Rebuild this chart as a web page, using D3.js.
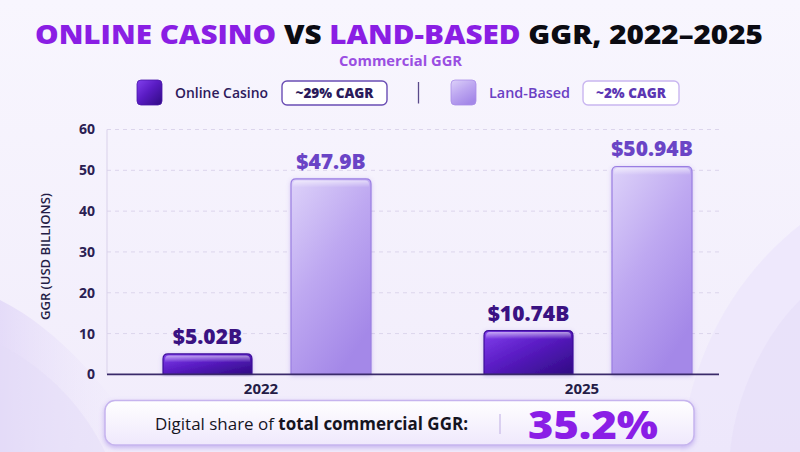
<!DOCTYPE html>
<html>
<head>
<meta charset="utf-8">
<script src="https://cdn.jsdelivr.net/npm/d3@7/dist/d3.min.js"></script>
<style>
  html, body { margin: 0; padding: 0; background: #f6f3fd; }
  svg { display: block; font-family: "Open Sans", "DejaVu Sans", sans-serif; }
</style>
</head>
<body>
<svg id="chart" width="800" height="452"></svg>
<script>
// ---------- data ----------
const years = ["2022", "2025"];
const series = ["Online Casino", "Land-Based"];
const onlineValues = [5.02, 10.74];
const landValues = [47.9, 50.94];
const cagrLabels = ["~29% CAGR", "~2% CAGR"];
const yTicks = [0, 10, 20, 30, 40, 50, 60];
const digitalShare = 35.2;
const titleParts = [
  { text: "ONLINE CASINO ", accent: true },
  { text: "VS ", accent: false },
  { text: "LAND-BASED ", accent: true },
  { text: "GGR, 2022\u20132025", accent: false }
];
const subtitle = "Commercial GGR";
const yTitle = "GGR (USD BILLIONS)";

// ---------- setup ----------
const W = 800, H = 452;
const svg = d3.select("#chart");
const defs = svg.append("defs");

function linGrad(id, x2, y2, stops) {
  const g = defs.append("linearGradient").attr("id", id)
    .attr("x1", 0).attr("y1", 0).attr("x2", x2).attr("y2", y2);
  stops.forEach(s => g.append("stop").attr("offset", s[0]).attr("stop-color", s[1]).attr("stop-opacity", s[2] == null ? 1 : s[2]));
}
linGrad("bg", 0, 1, [[0, "#f8f6fe"], [1, "#f1ecfb"]]);
linGrad("onlineGrad", 1, 1, [[0, "#8240ee"], [0.45, "#5a1cc4"], [1, "#2f0a82"]]);
linGrad("landGrad", 0.6, 1, [[0, "#ddd2f9"], [0.5, "#bea8f1"], [1, "#a488e8"]]);
linGrad("gloss", 0, 1, [[0, "#ffffff", 0.55], [1, "#ffffff", 0]]);
linGrad("boxGrad", 0, 1, [[0, "#ffffff"], [1, "#efe8fc"]]);
linGrad("decoL", 1, 0, [[0, "#d9ccf6", 0.7], [1, "#f3effd", 0]]);

const shadow = defs.append("filter").attr("id", "boxShadow")
  .attr("x", "-5%").attr("y", "-30%").attr("width", "110%").attr("height", "170%");
shadow.append("feDropShadow").attr("dx", 0).attr("dy", 2).attr("stdDeviation", 2.5)
  .attr("flood-color", "#8d6be0").attr("flood-opacity", 0.45);
const barShadow = defs.append("filter").attr("id", "barShadow")
  .attr("x", "-20%").attr("y", "-10%").attr("width", "140%").attr("height", "120%");
barShadow.append("feDropShadow").attr("dx", 0).attr("dy", 1).attr("stdDeviation", 2)
  .attr("flood-color", "#7a55d8").attr("flood-opacity", 0.3);

// background
svg.append("rect").attr("width", W).attr("height", H).attr("fill", "url(#bg)");
svg.append("path").attr("d", "M0,300 C60,330 110,390 150,452 L0,452 Z").attr("fill", "url(#decoL)").attr("opacity", 0.8);
svg.append("path").attr("d", "M0,345 C50,370 85,410 105,452 L0,452 Z").attr("fill", "#e4dbf8").attr("opacity", 0.5);
svg.append("path").attr("d", "M800,225 C730,280 690,360 680,452 L800,452 Z").attr("fill", "#ece6fb").attr("opacity", 0.8);
svg.append("path").attr("d", "M800,300 C760,340 735,400 730,452 L800,452 Z").attr("fill", "#e6def9").attr("opacity", 0.6);

function fitWidth(sel, w) {
  sel.attr("textLength", w).attr("lengthAdjust", "spacingAndGlyphs");
}

// ---------- title ----------
const title = svg.append("text").attr("x", 35).attr("y", 43.5)
  .attr("font-size", 26).attr("font-weight", 800);
title.selectAll("tspan").data(titleParts).join("tspan")
  .attr("fill", d => d.accent ? "#8a1ee4" : "#0b0b12")
  .text(d => d.text);
fitWidth(title, 728);

const sub = svg.append("text").attr("x", 339).attr("y", 65.5)
  .attr("font-size", 13.5).attr("font-weight", 700).attr("fill", "#9a4ee2")
  .text(subtitle);
fitWidth(sub, 123);

// ---------- legend ----------
const legendSpec = [
  { sq: 137, text: 175, textW: 93, box: [282, 105], color: "url(#onlineGrad)", tc: "#2d1a5c", bc: "#6a4db4", btc: "#2a1a5a", btw: 78 },
  { sq: 451, text: 489, textW: 81, box: [583, 96], color: "url(#landGrad)", tc: "#6a40c4", bc: "#c9b6f0", btc: "#5b36b3", btw: 70 }
];
const lg = svg.append("g").selectAll("g").data(series).join("g");
lg.append("rect").attr("x", (d, i) => legendSpec[i].sq).attr("y", 80)
  .attr("width", 25).attr("height", 25).attr("rx", 4)
  .attr("fill", (d, i) => legendSpec[i].color)
  .attr("stroke", (d, i) => i ? "#a98de8" : "#4a18a8").attr("stroke-width", 0.8);
lg.append("text").attr("x", (d, i) => legendSpec[i].text).attr("y", 97.5)
  .attr("font-size", 14).attr("font-weight", 600)
  .attr("fill", (d, i) => legendSpec[i].tc).text(d => d)
  .each(function (d, i) { fitWidth(d3.select(this), legendSpec[i].textW); });
lg.append("rect").attr("x", (d, i) => legendSpec[i].box[0]).attr("y", 81)
  .attr("width", (d, i) => legendSpec[i].box[1]).attr("height", 24).attr("rx", 5)
  .attr("fill", "#ffffff").attr("stroke", (d, i) => legendSpec[i].bc).attr("stroke-width", 1.4);
lg.append("text").attr("x", (d, i) => legendSpec[i].box[0] + (legendSpec[i].box[1] - legendSpec[i].btw) / 2).attr("y", 97.5)
  .attr("font-size", 13.5).attr("font-weight", 800)
  .attr("fill", (d, i) => legendSpec[i].btc).text((d, i) => cagrLabels[i])
  .each(function (d, i) { fitWidth(d3.select(this), legendSpec[i].btw); });
svg.append("line").attr("x1", 418.5).attr("x2", 418.5).attr("y1", 82).attr("y2", 103.5)
  .attr("stroke", "#5a4a8a").attr("stroke-width", 1.3);

// ---------- scales ----------
const y = d3.scaleLinear().domain([0, 60]).range([374.4, 129.5]);
const x0 = d3.scaleBand().domain(years).range([105, 747]);
const x1 = d3.scaleBand().domain(series).range([58, 266]).paddingInner(0.375);
const seriesWidth = { "Online Casino": 89, "Land-Based": 80 };
const plotL = 107, plotR = 719;

// gridlines
svg.append("g").selectAll("line").data(yTicks.filter(t => t > 0)).join("line")
  .attr("x1", plotL).attr("x2", plotR).attr("y1", d => y(d)).attr("y2", d => y(d))
  .attr("stroke", "#dcd5ec").attr("stroke-width", 1).attr("stroke-dasharray", "4,4");
svg.append("line").attr("x1", plotL).attr("x2", plotL).attr("y1", y(60)).attr("y2", y(0))
  .attr("stroke", "#d9d1ea").attr("stroke-width", 1);

// y axis
const yAxis = svg.append("g").attr("transform", `translate(${plotL},0)`)
  .call(d3.axisLeft(y).tickValues(yTicks).tickSize(0).tickPadding(12));
yAxis.select(".domain").remove();
yAxis.selectAll("text").attr("font-size", 14).attr("font-weight", 700)
  .attr("fill", "#2a2052").attr("font-family", "Open Sans, sans-serif");

const yt = svg.append("text").attr("transform", "translate(49.5,256.5) rotate(-90)")
  .attr("text-anchor", "middle").attr("font-size", 12.5).attr("font-weight", 600)
  .attr("fill", "#241c46").text(yTitle);
fitWidth(yt, 127);

// bars
function topRounded(x, yTop, w, h, r) {
  r = Math.min(r, h);
  return `M${x},${yTop + h} L${x},${yTop + r} Q${x},${yTop} ${x + r},${yTop} L${x + w - r},${yTop} Q${x + w},${yTop} ${x + w},${yTop + r} L${x + w},${yTop + h} Z`;
}
const barData = [];
years.forEach((yr, i) => {
  barData.push({ year: yr, s: series[0], v: onlineValues[i] });
  barData.push({ year: yr, s: series[1], v: landValues[i] });
});
const bx = d => x0(d.year) + x1(d.s);
const bars = svg.append("g").selectAll("g").data(barData).join("g");
bars.append("path")
  .attr("d", d => topRounded(bx(d), y(d.v), seriesWidth[d.s], y(0) - y(d.v), 5))
  .attr("fill", d => d.s === series[0] ? "url(#onlineGrad)" : "url(#landGrad)")
  .attr("stroke", d => d.s === series[0] ? "#3e0d99" : "#9a7ee2").attr("stroke-width", 1.2)
  .attr("filter", "url(#barShadow)");
bars.append("path")
  .attr("d", d => topRounded(bx(d) + 2, y(d.v) + 1.5, seriesWidth[d.s] - 4, 7, 4))
  .attr("fill", "url(#gloss)");
bars.append("text")
  .attr("x", d => bx(d) + seriesWidth[d.s] / 2)
  .attr("y", d => y(d.v) - 10)
  .attr("text-anchor", "middle").attr("font-size", 21).attr("font-weight", 800)
  .attr("fill", d => d.s === series[0] ? "#3a1282" : "#6a44c6")
  .text(d => "$" + d.v + "B");

// baseline + x axis
svg.append("line").attr("x1", plotL).attr("x2", plotR).attr("y1", y(0)).attr("y2", y(0))
  .attr("stroke", "#3a2a6a").attr("stroke-width", 1.6);
const xAxis = svg.append("g").attr("transform", `translate(0,${y(0)})`)
  .call(d3.axisBottom(x0).tickSize(0).tickPadding(9));
xAxis.select(".domain").remove();
xAxis.selectAll("text").attr("font-size", 15).attr("font-weight", 700)
  .attr("fill", "#241c46").attr("font-family", "Open Sans, sans-serif")
  .attr("dx", "-0.3em");

// ---------- bottom box ----------
svg.append("rect").attr("x", 105).attr("y", 400.5).attr("width", 589).attr("height", 44.5).attr("rx", 10)
  .attr("fill", "url(#boxGrad)").attr("stroke", "#c6b4ee").attr("stroke-width", 1.5)
  .attr("filter", "url(#boxShadow)");
const share = svg.append("text").attr("x", 155).attr("y", 429.5)
  .attr("font-size", 17).attr("fill", "#15141f");
share.append("tspan").attr("font-weight", 400).text("Digital share of ");
share.append("tspan").attr("font-weight", 700).text("total commercial GGR:");
fitWidth(share, 313);
svg.append("line").attr("x1", 500).attr("x2", 500).attr("y1", 414).attr("y2", 434)
  .attr("stroke", "#cbbde9").attr("stroke-width", 1.3);
const pct = svg.append("text").attr("x", 528).attr("y", 438.7)
  .attr("font-size", 39).attr("font-weight", 800).attr("fill", "#8a1ee6")
  .text(digitalShare + "%");
fitWidth(pct, 130);
</script>
</body>
</html>
